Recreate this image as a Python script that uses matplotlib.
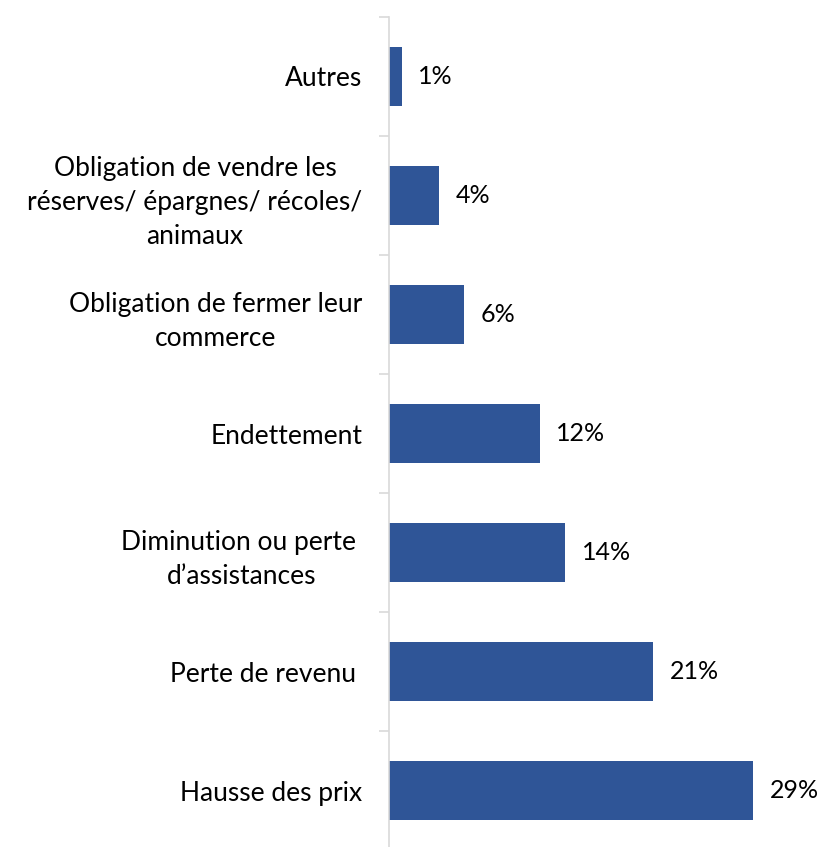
import matplotlib
matplotlib.use("Agg")
import matplotlib.pyplot as plt

categories = [
    "Hausse des prix",
    "Perte de revenu ",
    "Diminution ou perte \nd\u2019assistances",
    "Endettement",
    "Obligation de fermer leur\ncommerce",
    "Obligation de vendre les\nr\u00e9serves/ \u00e9pargnes/ r\u00e9coles/\nanimaux",
    "Autres",
]
values = [29, 21, 14, 12, 6, 4, 1]
value_labels = ["29%", "21%", "14%", "12%", "6%", "4%", "1%"]

plt.rcParams['font.family'] = ['Lato', 'DejaVu Sans']

fig = plt.figure(figsize=(8.22, 8.47), dpi=100)
ax = fig.add_axes([389/822, -3/847, (791-389)/822, 833/847])

ypos = list(range(len(categories)))
ax.barh(ypos, values, height=0.5, color="#2F5597")
ax.set_ylim(-0.5, len(categories) - 0.5)
ax.set_xlim(0, 32)

for y, v, lab in zip(ypos, values, value_labels):
    ax.annotate(lab, (v, y), xytext=(12, 0), textcoords="offset points",
                va="center", ha="left", fontsize=18, color="black")

ax.set_yticks([i - 0.5 for i in range(len(categories) + 1)], minor=False)
ax.set_yticklabels([])
ax.set_yticks(ypos, minor=True)
ax.set_yticklabels(categories, minor=True, fontsize=19, multialignment="center",
                   linespacing=1.45)
ax.tick_params(axis="y", which="major", length=7, color="#D9D9D9", width=1.2)
ax.tick_params(axis="y", which="minor", length=0, pad=19)
ax.set_xticks([])

for s in ["top", "right", "bottom"]:
    ax.spines[s].set_visible(False)
ax.spines["left"].set_color("#D9D9D9")
ax.spines["left"].set_linewidth(1.2)

fig.savefig("out.png", dpi=100)
